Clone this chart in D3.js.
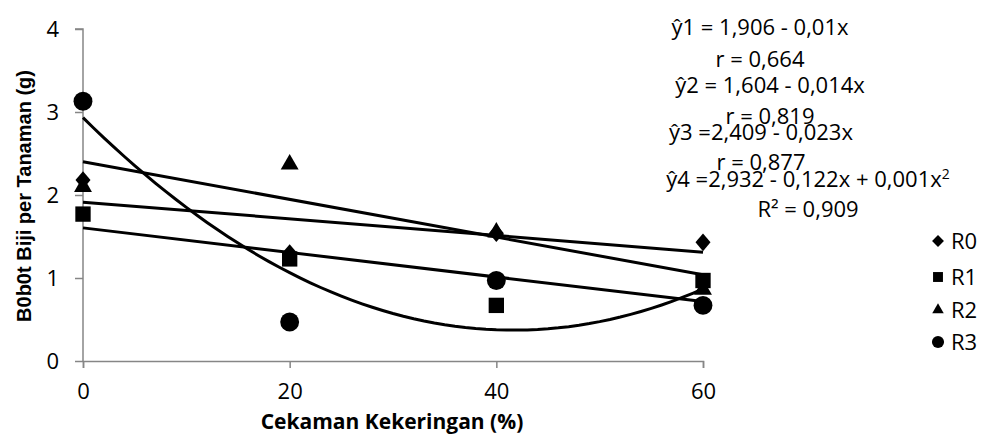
<!DOCTYPE html>
<html>
<head>
<meta charset="utf-8">
<title>Bobot Biji per Tanaman</title>
<script src="https://d3js.org/d3.v7.min.js"></script>
<style>
  body { margin: 0; background: #fff; }
  svg text { font-family: "Open Sans", sans-serif; fill: #000; }
</style>
</head>
<body>
<svg width="984" height="438"></svg>
<script>
    // data
    const xLevels = [0, 20, 40, 60];
    const r0 = [2.18, 1.30, 1.54, 1.43];
    const r1 = [1.77, 1.23, 0.67, 0.97];
    const r2 = [2.10, 2.37, 1.55, 0.86];
    const r3 = [3.13, 0.47, 0.97, 0.67];
    const seriesNames = ["R0", "R1", "R2", "R3"];
    const yTicks = [0, 1, 2, 3, 4];
    const equations = [
        ["ŷ1 = 1,906 - 0,01x", "r = 0,664"],
        ["ŷ2 = 1,604 - 0,014x", "r = 0,819"],
        ["ŷ3 =2,409 - 0,023x", "r = 0,877"],
        ["ŷ4 =2,932 - 0,122x + 0,001x", "R² = 0,909"]
    ];

    const svg = d3.select("svg");
    const x = d3.scaleLinear().domain([0, 60]).range([83, 703]);
    const y = d3.scaleLinear().domain([0, 4]).range([361, 29]);

    // axes
    const yAxis = svg.append("g")
        .attr("transform", "translate(83,0)")
        .call(d3.axisLeft(y).tickValues(yTicks).tickSize(8).tickPadding(16).tickFormat(d3.format("d")));
    const xAxis = svg.append("g")
        .attr("transform", "translate(0,361)")
        .call(d3.axisBottom(x).tickValues(xLevels).tickSize(7).tickPadding(15).tickFormat(d3.format("d")));
    [xAxis, yAxis].forEach(g => {
        g.select(".domain").attr("stroke", "#868686").attr("stroke-width", 1.5);
        g.selectAll(".tick line").attr("stroke", "#868686").attr("stroke-width", 1.5);
        g.selectAll(".tick text").attr("font-size", 22).attr("font-family", "Open Sans").attr("fill", "#000");
    });
    yAxis.select(".domain").attr("d", "M-8," + y(4) + "H0V" + y(0));

    // least squares fits (linear for R0..R2, quadratic for R3)
    function linFit(ys) {
        const mx = d3.mean(xLevels), my = d3.mean(ys);
        const b = d3.sum(xLevels, (v, i) => (v - mx) * (ys[i] - my)) / d3.sum(xLevels, v => (v - mx) ** 2);
        return v => my + b * (v - mx);
    }
    function quadFit(ys) {
        // normal equations, 3x3
        const S = k => d3.sum(xLevels, v => v ** k);
        const T = k => d3.sum(xLevels, (v, i) => v ** k * ys[i]);
        const A = [[S(0), S(1), S(2)], [S(1), S(2), S(3)], [S(2), S(3), S(4)]];
        const B = [T(0), T(1), T(2)];
        for (let i = 0; i < 3; i++) {
            for (let j = i + 1; j < 3; j++) {
                const f = A[j][i] / A[i][i];
                for (let k = i; k < 3; k++) A[j][k] -= f * A[i][k];
                B[j] -= f * B[i];
            }
        }
        const c = [0, 0, 0];
        for (let i = 2; i >= 0; i--) {
            let s = B[i];
            for (let k = i + 1; k < 3; k++) s -= A[i][k] * c[k];
            c[i] = s / A[i][i];
        }
        return v => c[0] + c[1] * v + c[2] * v * v;
    }

    const fits = [linFit(r0), linFit(r1), linFit(r2), quadFit(r3)];
    const line = d3.line().x(d => x(d[0])).y(d => y(d[1]));
    fits.forEach((f, i) => {
        const pts = i < 3 ? [0, 60] : d3.range(0, 60.5, 1);
        svg.append("path")
            .attr("d", line(pts.map(v => [v, f(v)])))
            .attr("fill", "none")
            .attr("stroke", "#000")
            .attr("stroke-width", 3);
    });

    // markers
    const shapes = [d3.symbolDiamond2, d3.symbolSquare2, d3.symbolTriangle2, d3.symbolCircle];
    const plotSizes = [200, 300, 230, 280];
    const legendSizes = [90, 125, 95, 115];
    [r0, r1, r2, r3].forEach((vals, i) => {
        svg.append("g").selectAll("path").data(vals).join("path")
            .attr("transform", (d, j) => "translate(" + x(xLevels[j]) + "," + y(d) + ")" + (i === 0 ? " scale(0.85,1)" : ""))
            .attr("d", d3.symbol(shapes[i], plotSizes[i]))
            .attr("fill", "#000");
    });

    // legend
    const legendY = [241, 277, 310, 342];
    seriesNames.forEach((name, i) => {
        svg.append("path")
            .attr("transform", "translate(938," + legendY[i] + ")")
            .attr("d", d3.symbol(shapes[i], legendSizes[i]))
            .attr("fill", "#000");
        svg.append("text")
            .attr("x", 951).attr("y", legendY[i] + 8)
            .attr("font-size", 22)
            .text(name);
    });

    // regression equations
    const eqCenters = [760, 770, 761, 808];
    const eqBase = [[35, 67], [93, 124], [140, 170], [187, 217]];
    equations.forEach((pair, i) => {
        const t = svg.append("text")
            .attr("x", eqCenters[i]).attr("y", eqBase[i][0])
            .attr("text-anchor", "middle").attr("font-size", 22)
            .text(pair[0]);
        if (i === 3) t.append("tspan").attr("dy", -8).attr("font-size", 14).text("2");
        svg.append("text")
            .attr("x", eqCenters[i]).attr("y", eqBase[i][1])
            .attr("text-anchor", "middle").attr("font-size", 22)
            .text(pair[1]);
    });

    // axis titles
    svg.append("text")
        .attr("x", 392).attr("y", 429)
        .attr("text-anchor", "middle")
        .attr("font-size", 21).attr("font-weight", "bold")
        .text("Cekaman Kekeringan (%)");
    svg.append("text")
        .attr("transform", "translate(31,196) rotate(-90)")
        .attr("text-anchor", "middle")
        .style("font-family", "'Liberation Sans', Arial, sans-serif")
        .attr("font-size", 20).attr("font-weight", "bold")
        .text("B0b0t Biji per Tanaman (g)");
</script>
</body>
</html>
